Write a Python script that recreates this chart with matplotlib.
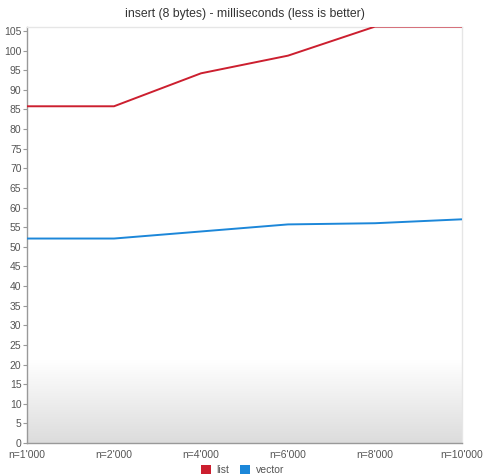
import numpy as np
import matplotlib
matplotlib.use("Agg")
import matplotlib.pyplot as plt
from matplotlib.patches import Patch

plt.rcParams["font.family"] = ["Liberation Sans", "DejaVu Sans"]

# benchmark results: insert of 8-byte elements, milliseconds
sizes = ["n=1'000", "n=2'000", "n=4'000", "n=6'000", "n=8'000", "n=10'000"]
list_ms = [85.8, 85.8, 94.2, 98.7, 106.1, 106.1]
vector_ms = [52.1, 52.1, 53.9, 55.7, 56.0, 57.0]

RED = "#cc1f2f"
BLUE = "#1c87d9"
TEXT = "#555555"
GRID = "#e6e6e6"

fig = plt.figure(figsize=(4.85, 4.76), dpi=100)
ax = fig.add_axes([27 / 485, 1 - 443 / 476, 435 / 485, 416 / 476])

x = np.arange(len(sizes))
YMAX = 106.0

# soft gray gradient along the bottom of the plot area
grad = np.linspace(0.0, 1.0, 256).reshape(-1, 1)
ax.imshow(
    grad,
    extent=(x[0], x[-1], 0, 21),
    origin="upper",
    aspect="auto",
    cmap=matplotlib.colors.LinearSegmentedColormap.from_list(
        "fade", ["#ffffff", "#dcdcdc"]
    ),
    zorder=0,
)

ax.plot(x, list_ms, color=RED, lw=1.4, zorder=3, solid_capstyle="butt")
ax.plot(x, vector_ms, color=BLUE, lw=1.4, zorder=3, solid_capstyle="butt")

ax.set_xlim(x[0], x[-1])
ax.set_ylim(0, YMAX)
ax.set_xticks(x)
ax.set_xticklabels(sizes)
ax.set_yticks(np.arange(0, 106, 5))

for side in ["top", "right"]:
    ax.spines[side].set_color(GRID)
    ax.spines[side].set_linewidth(1.0)
for side in ["left", "bottom"]:
    ax.spines[side].set_color("#999999")
    ax.spines[side].set_linewidth(1.0)

ax.tick_params(axis="y", length=3, width=0.8, color="#999999", labelsize=7.5,
               labelcolor=TEXT, pad=1)
ax.tick_params(axis="x", length=0, labelsize=7.5, labelcolor=TEXT, pad=5)

ax.set_title("insert (8 bytes) - milliseconds (less is better)", fontsize=8.8,
             color="#333333", pad=7.5)

handles = [Patch(facecolor=RED, label="list"), Patch(facecolor=BLUE, label="vector")]
leg = fig.legend(
    handles=handles,
    loc="lower center",
    bbox_to_anchor=(0.5, -0.018),
    ncol=2,
    frameon=False,
    fontsize=7.5,
    handlelength=1.0,
    handleheight=1.0,
    handletextpad=0.5,
    columnspacing=1.0,
)
for t in leg.get_texts():
    t.set_color(TEXT)

fig.savefig("out.png", dpi=100)
